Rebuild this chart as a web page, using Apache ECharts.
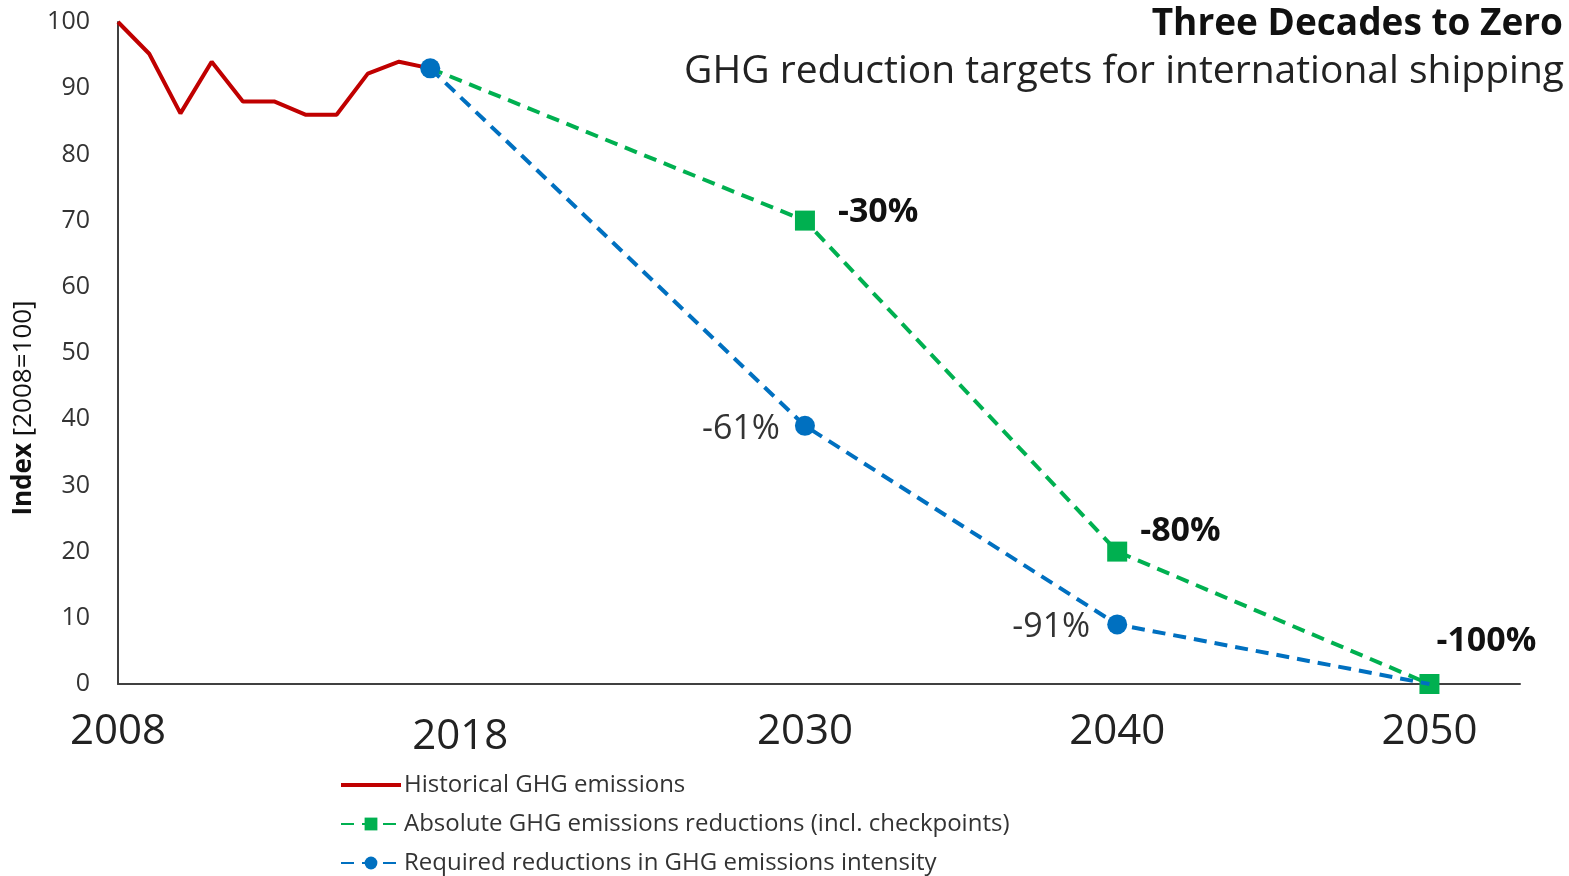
<!DOCTYPE html>
<html>
<head>
<meta charset="utf-8">
<script src="https://cdn.jsdelivr.net/npm/echarts@6/dist/echarts.min.js"></script>
<style>
html,body{margin:0;padding:0;background:#fff;}
#chart{width:1569px;height:876px;}
</style>
</head>
<body>
<div id="chart"></div>
<script>
// ---- data ----
const histYears = [2008, 2009, 2010, 2011, 2012, 2013, 2014, 2015, 2016, 2017, 2018];
const histValues = [100, 95.2, 86.2, 94, 88, 88, 86, 86, 92.2, 94, 93];
const targetYears = [2018, 2030, 2040, 2050];
const absoluteValues = [93, 70, 20, 0];
const intensityValues = [93, 39, 9, 0];
const absoluteLabels = ['', '-30%', '-80%', '-100%'];
const intensityLabels = ['', '-61%', '-91%', ''];
const xTickYears = [2008, 2018, 2030, 2040, 2050];
const seriesNames = ['Historical GHG emissions', 'Absolute GHG emissions reductions (incl. checkpoints)', 'Required reductions in GHG emissions intensity'];

const FONT = "'Open Sans', 'Noto Sans', sans-serif";
const RED = '#C00000', GREEN = '#00B050', BLUE = '#0070C0';

const histData = histYears.map((y, i) => [y, histValues[i]]);
const absLabelStyle = [
  null,
  { position: 'right', distance: 23, offset: [0, -8] },
  { position: 'right', distance: 13, offset: [0, -20] },
  { position: 'right', distance: -3, offset: [0, -43] }
];
const intLabelStyle = [
  null,
  { position: 'left', distance: 15, offset: [0, 3] },
  { position: 'left', distance: 17, offset: [0, 3] },
  null
];
const absData = targetYears.map((y, i) => {
  const item = { value: [y, absoluteValues[i]] };
  if (i === 0) item.symbol = 'none';
  if (absoluteLabels[i]) {
    item.label = Object.assign({ show: true, formatter: absoluteLabels[i], fontWeight: 'bold', fontSize: 34, color: '#111', fontFamily: FONT }, absLabelStyle[i]);
  }
  return item;
});
const intData = targetYears.map((y, i) => {
  const item = { value: [y, intensityValues[i]] };
  if (i === targetYears.length - 1) item.symbol = 'none';
  if (intensityLabels[i]) {
    item.label = Object.assign({ show: true, formatter: intensityLabels[i], fontSize: 34, color: '#333', fontFamily: FONT }, intLabelStyle[i]);
  }
  return item;
});

const chart = echarts.init(document.getElementById('chart'));
chart.setOption({
  backgroundColor: '#fff',
  animation: false,
  textStyle: { fontFamily: FONT },
  title: [
    { text: 'Three Decades to Zero', right: 6, top: 6, padding: 0, textStyle: { fontFamily: FONT, fontWeight: 'bold', fontSize: 37, color: '#111' } },
    { text: 'GHG reduction targets for international shipping', right: 5, top: 52, padding: 0, textStyle: { fontFamily: FONT, fontWeight: 'normal', fontSize: 39, color: '#222' } }
  ],
  legend: {
    orient: 'vertical',
    left: 340,
    top: 773,
    padding: 0,
    itemWidth: 60,
    itemHeight: 16,
    itemGap: 15,
    data: [
      { name: seriesNames[0], icon: 'path://M0,0L60,0L60,4L0,4Z' },
      { name: seriesNames[1] },
      { name: seriesNames[2] }
    ],
    textStyle: { fontFamily: FONT, fontSize: 24, color: '#333', padding: [0, 0, 0, -2] }
  },
  grid: { left: 118, right: 49, top: 22, bottom: 192, containLabel: false, outerBoundsMode: 'none' },
  xAxis: {
    type: 'value',
    min: 2008,
    max: 2052.9,
    splitLine: { show: false },
    axisLine: { show: true, lineStyle: { color: '#404040', width: 2 } },
    axisTick: { show: false },
    axisLabel: {
      customValues: xTickYears,
      margin: 27,
      fontSize: 42,
      color: '#222',
      fontFamily: FONT,
      formatter: v => v === 2018 ? '{b|' + v + '}' : '{a|' + v + '}',
      rich: {
        a: { fontSize: 42, color: '#222', fontFamily: FONT },
        b: { fontSize: 42, color: '#222', fontFamily: FONT, padding: [5, 0, 0, 60] }
      }
    }
  },
  yAxis: {
    type: 'value',
    min: 0,
    max: 100,
    interval: 10,
    splitLine: { show: false },
    axisLine: { show: true, lineStyle: { color: '#404040', width: 2 } },
    axisTick: { show: false },
    axisLabel: { margin: 28, fontSize: 25, color: '#333', fontFamily: FONT },
    name: '{b|Index}{n| [2008=100]}',
    nameLocation: 'middle',
    nameRotate: 90,
    nameGap: 78,
    nameTextStyle: {
      padding: [0, 110, 0, 0],
      rich: {
        b: { fontWeight: 'bold', fontSize: 26, color: '#111', fontFamily: FONT },
        n: { fontSize: 26, color: '#111', fontFamily: FONT }
      }
    }
  },
  series: [
    {
      name: seriesNames[0],
      type: 'line',
      data: histData,
      symbol: 'none',
      lineStyle: { color: RED, width: 4 },
      itemStyle: { color: RED },
      z: 3
    },
    {
      name: seriesNames[2],
      type: 'line',
      data: intData,
      symbol: 'circle',
      symbolSize: 20,
      lineStyle: { color: BLUE, width: 4, type: [13, 8] },
      itemStyle: { color: BLUE },
      z: 4
    },
    {
      name: seriesNames[1],
      type: 'line',
      data: absData,
      symbol: 'rect',
      symbolSize: 20,
      lineStyle: { color: GREEN, width: 4, type: [13, 8] },
      itemStyle: { color: GREEN },
      z: 3
    }
  ]
});
</script>
</body>
</html>
